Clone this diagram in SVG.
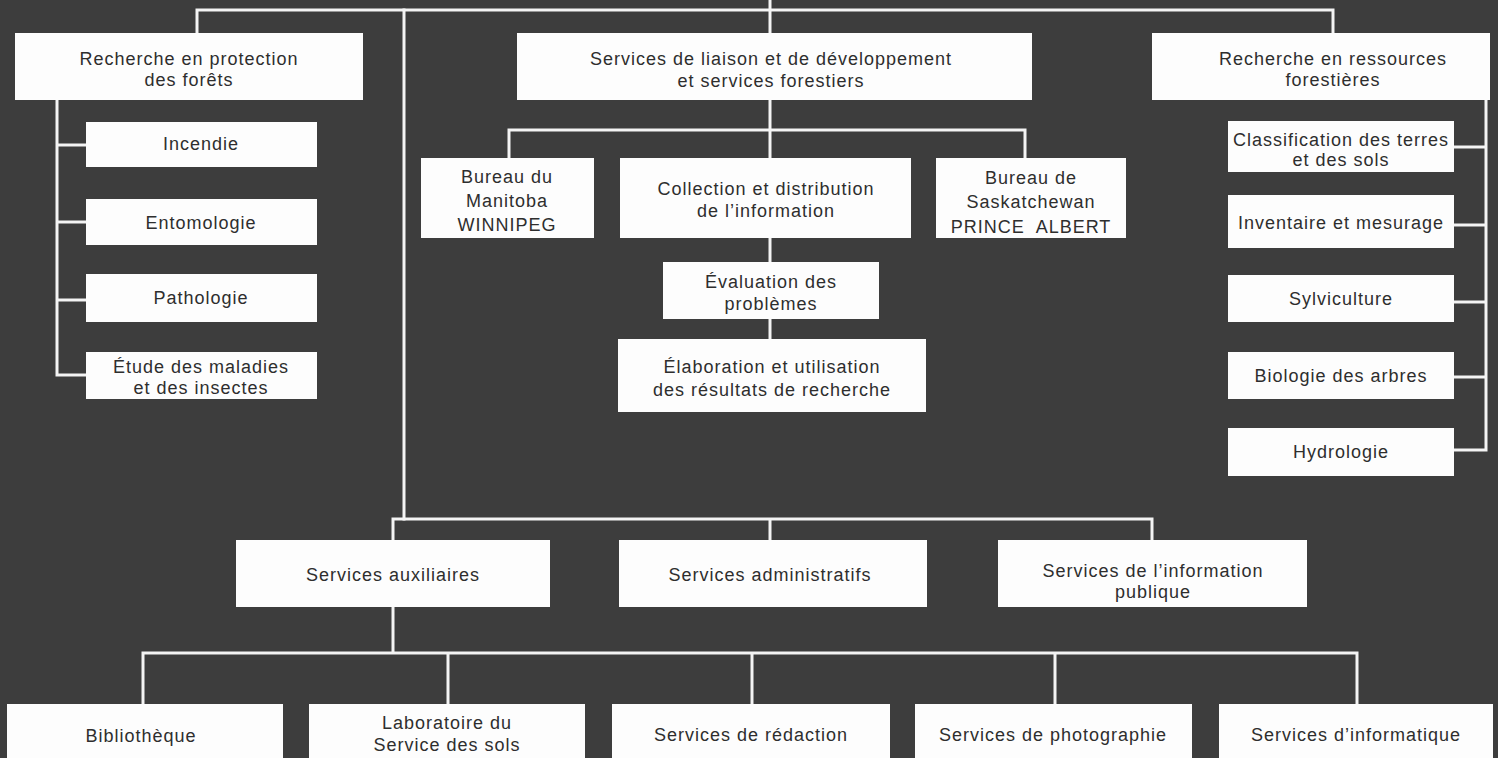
<svg xmlns="http://www.w3.org/2000/svg" width="1498" height="758" viewBox="0 0 1498 758">
<style>
.bg{fill:#3d3d3d}
.box{fill:#fdfdfd}
.ln{stroke:#f4f4f4;stroke-width:3;fill:none;stroke-linecap:square}
text{font-family:"Liberation Sans",Arial,sans-serif;font-size:18px;fill:#2e2e2e;text-anchor:middle;letter-spacing:1px}
</style>
<rect class="bg" x="0" y="0" width="1498" height="758"/>
<g id="connectors">
<path class="ln" d="M197,33 V10 H1333 V33"/>
<path class="ln" d="M770,0 V33"/>
<path class="ln" d="M404,10 V519"/>
<path class="ln" d="M57,100 V375 H86 M57,145 H86 M57,222 H86 M57,300 H86"/>
<path class="ln" d="M770,100 V158 M509,158 V130 H1025 V158"/>
<path class="ln" d="M770,238 V262 M770,319 V339"/>
<path class="ln" d="M1486,100 V450 H1454 M1454,147 H1486 M1454,225 H1486 M1454,302 H1486 M1454,377 H1486"/>
<path class="ln" d="M393,540 V519 H1152 V540 M770,519 V540"/>
<path class="ln" d="M393,607 V653 M143,704 V653 H1357 V704 M448,653 V704 M752,653 V704 M1055,653 V704"/>
</g>
<g id="n-protection"><rect class="box" x="15" y="33" width="348" height="67"/><text x="189" y="65">Recherche en protection</text><text x="189" y="86">des forêts</text></g>
<g id="n-liaison"><rect class="box" x="517" y="33" width="515" height="67"/><text x="771" y="65">Services de liaison et de développement</text><text x="771" y="87">et services forestiers</text></g>
<g id="n-ressources"><rect class="box" x="1152" y="33" width="338" height="67"/><text x="1333" y="65">Recherche en ressources</text><text x="1333" y="86">forestières</text></g>
<g id="n-incendie"><rect class="box" x="86" y="122" width="231" height="45"/><text x="201" y="150">Incendie</text></g>
<g id="n-entomologie"><rect class="box" x="86" y="199" width="231" height="46"/><text x="201" y="229">Entomologie</text></g>
<g id="n-pathologie"><rect class="box" x="86" y="274" width="231" height="48"/><text x="201" y="304">Pathologie</text></g>
<g id="n-etude"><rect class="box" x="86" y="352" width="231" height="47"/><text x="201" y="373">Étude des maladies</text><text x="201" y="394">et des insectes</text></g>
<g id="n-manitoba"><rect class="box" x="421" y="158" width="173" height="80"/><text x="507" y="183">Bureau du</text><text x="507" y="207">Manitoba</text><text x="507" y="231">WINNIPEG</text></g>
<g id="n-collection"><rect class="box" x="620" y="158" width="291" height="80"/><text x="766" y="195">Collection et distribution</text><text x="766" y="217">de l’information</text></g>
<g id="n-saskatchewan"><rect class="box" x="936" y="158" width="190" height="80"/><text x="1031" y="184">Bureau de</text><text x="1031" y="208">Saskatchewan</text><text x="1031" y="233" xml:space="preserve">PRINCE  ALBERT</text></g>
<g id="n-evaluation"><rect class="box" x="663" y="262" width="216" height="57"/><text x="771" y="288">Évaluation des</text><text x="771" y="310">problèmes</text></g>
<g id="n-elaboration"><rect class="box" x="618" y="339" width="308" height="73"/><text x="772" y="373">Élaboration et utilisation</text><text x="772" y="396">des résultats de recherche</text></g>
<g id="n-classification"><rect class="box" x="1228" y="121" width="226" height="51"/><text x="1341" y="146">Classification des terres</text><text x="1341" y="166">et des sols</text></g>
<g id="n-inventaire"><rect class="box" x="1228" y="195" width="226" height="53"/><text x="1341" y="229">Inventaire et mesurage</text></g>
<g id="n-sylviculture"><rect class="box" x="1228" y="275" width="226" height="47"/><text x="1341" y="305">Sylviculture</text></g>
<g id="n-biologie"><rect class="box" x="1228" y="352" width="226" height="47"/><text x="1341" y="382">Biologie des arbres</text></g>
<g id="n-hydrologie"><rect class="box" x="1228" y="428" width="226" height="48"/><text x="1341" y="458">Hydrologie</text></g>
<g id="n-auxiliaires"><rect class="box" x="236" y="540" width="314" height="67"/><text x="393" y="581">Services auxiliaires</text></g>
<g id="n-administratifs"><rect class="box" x="619" y="540" width="308" height="67"/><text x="770" y="581">Services administratifs</text></g>
<g id="n-information"><rect class="box" x="998" y="540" width="309" height="67"/><text x="1153" y="577">Services de l’information</text><text x="1153" y="598">publique</text></g>
<g id="n-bibliotheque"><rect class="box" x="7" y="704" width="276" height="70"/><text x="141" y="742">Bibliothèque</text></g>
<g id="n-laboratoire"><rect class="box" x="309" y="704" width="276" height="70"/><text x="447" y="729">Laboratoire du</text><text x="447" y="751">Service des sols</text></g>
<g id="n-redaction"><rect class="box" x="612" y="704" width="278" height="70"/><text x="751" y="741">Services de rédaction</text></g>
<g id="n-photographie"><rect class="box" x="915" y="704" width="277" height="70"/><text x="1053" y="741">Services de photographie</text></g>
<g id="n-informatique"><rect class="box" x="1219" y="704" width="274" height="70"/><text x="1356" y="741">Services d’informatique</text></g>
</svg>
